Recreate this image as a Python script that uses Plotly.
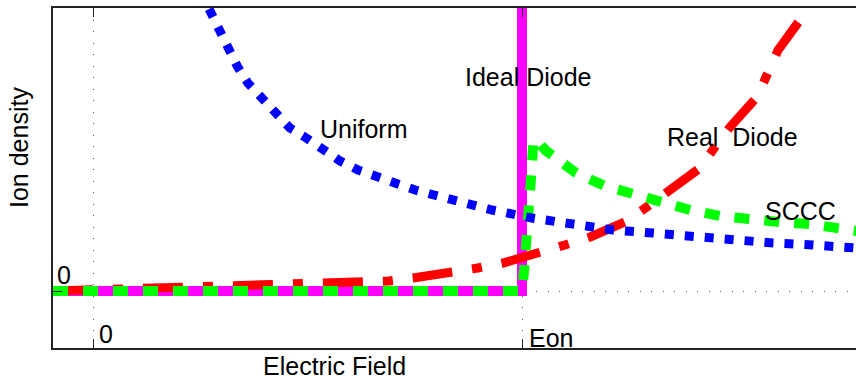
import plotly.graph_objects as go

# ---------------- data ----------------
# x: electric field in units of Eon (0 .. Eon=1 ..); y: ion density (arbitrary units)
ideal_x = [-0.0932, 1.0, 1.0]
ideal_y = [0.0, 0.0, 3.5]

real_x = [-0.0932, 0.0, 0.16, 0.37, 0.57, 0.69, 0.746, 0.839, 0.897, 0.956, 1.042,
          1.100, 1.159, 1.245, 1.294, 1.338, 1.415, 1.450, 1.485, 1.548, 1.576,
          1.597, 1.653, 1.70]
real_y = [0.0, 0.01, 0.03, 0.055, 0.075, 0.10, 0.13, 0.18, 0.23, 0.28, 0.38,
          0.46, 0.54, 0.70, 0.85, 0.99, 1.23, 1.44, 1.64, 1.94, 2.18,
          2.41, 2.74, 3.2]

sccc_x = [-0.0932, 1.0, 1.005, 1.012, 1.016, 1.021, 1.026, 1.033, 1.054, 1.089,
          1.126, 1.193, 1.261, 1.322, 1.392, 1.462, 1.531, 1.601, 1.671, 1.744, 1.78]
sccc_y = [0.0, 0.0, 0.21, 0.53, 0.83, 1.13, 1.46, 1.52, 1.41, 1.30,
          1.18, 1.05, 0.96, 0.89, 0.81, 0.75, 0.71, 0.69, 0.67, 0.63, 0.60]

uniform_x = [0.25, 0.273, 0.291, 0.312, 0.336, 0.361, 0.394, 0.427, 0.459, 0.497,
             0.534, 0.576, 0.618, 0.662, 0.706, 0.751, 0.795, 0.86, 0.930, 1.023,
             1.119, 1.212, 1.305, 1.399, 1.492, 1.585, 1.678, 1.78]
uniform_y = [3.0, 2.79, 2.61, 2.43, 2.25, 2.08, 1.93, 1.78, 1.63, 1.53,
             1.41, 1.30, 1.21, 1.14, 1.06, 1.01, 0.96, 0.88, 0.81, 0.73,
             0.67, 0.61, 0.58, 0.54, 0.51, 0.48, 0.46, 0.43]

x_tick_vals = [0, 1]
x_tick_text = ["0", "Eon"]
y_tick_vals = [0]
y_tick_text = ["0"]

# ---------------- layout geometry (pixels) ----------------
W, H = 856, 381
ML, MR, MT, MB = 53, 0, 8, 33
PW, PH = W - ML - MR, H - MT - MB
X0PX, XPPU = 93, 429      # pixel of x=0, pixels per unit
Y0PX, YPPU = 291, 100     # pixel of y=0, pixels per unit
xr = [(ML - X0PX) / XPPU, (W - MR - X0PX) / XPPU]
yr = [(Y0PX - (H - MB)) / YPPU, (Y0PX - MT) / YPPU]


def px(x):
    return (x - ML) / PW


def py(y):
    return (H - MB - y) / PH


FONT = "Liberation Sans, Arial, Helvetica, sans-serif"

fig = go.Figure()
fig.add_trace(go.Scatter(x=ideal_x, y=ideal_y, mode="lines", name="Ideal Diode",
                         line=dict(color="#ff00ff", width=10)))
fig.add_trace(go.Scatter(x=real_x, y=real_y, mode="lines", name="Real Diode",
                         line=dict(color="#ff0000", width=9,
                                   dash="40px,20px,10px,20px")))
fig.add_trace(go.Scatter(x=sccc_x, y=sccc_y, mode="lines", name="SCCC",
                         line=dict(color="#00ff00", width=10, dash="15px,15px")))
fig.add_trace(go.Scatter(x=uniform_x, y=uniform_y, mode="lines", name="Uniform",
                         line=dict(color="#0000ff", width=9, dash="9px,11px")))

ann = []


def label(text, x, y, size=25, angle=0):
    ann.append(dict(text=text, x=px(x), y=py(y), xref="paper", yref="paper",
                    showarrow=False, xanchor="center", yanchor="middle",
                    textangle=angle, font=dict(family=FONT, size=size, color="black")))


label("Uniform", 363.5, 129)
label("Ideal\u00a0Diode", 527.5, 77)
label("Real\u00a0\u00a0Diode", 732.5, 137)
label("SCCC", 800, 211)
label(x_tick_text[0], 105.5, 334)
label(x_tick_text[1], 551, 338)
label(y_tick_text[0], 63.5, 275)
label("Electric Field", 334, 366)
label("Ion density", 19, 148, angle=-90)

fig.update_layout(
    width=W, height=H,
    margin=dict(l=ML, r=MR, t=MT, b=MB, pad=0),
    paper_bgcolor="white", plot_bgcolor="white",
    showlegend=False,
    annotations=ann,
    xaxis=dict(range=xr, tickvals=x_tick_vals, showticklabels=False,
               ticks="inside", ticklen=9, tickwidth=1, tickcolor="#222",
               showline=True, linecolor="#222", linewidth=2, mirror="ticks",
               showgrid=True, gridcolor="#555", gridwidth=1, griddash="1px,10.5px",
               zeroline=False),
    yaxis=dict(range=yr, tickvals=y_tick_vals, showticklabels=False,
               ticks="inside", ticklen=9, tickwidth=1, tickcolor="#222",
               showline=True, linecolor="#222", linewidth=2, mirror=False,
               showgrid=True, gridcolor="#555", gridwidth=1, griddash="1px,10.5px",
               zeroline=False),
)

fig.write_html("out.html")
